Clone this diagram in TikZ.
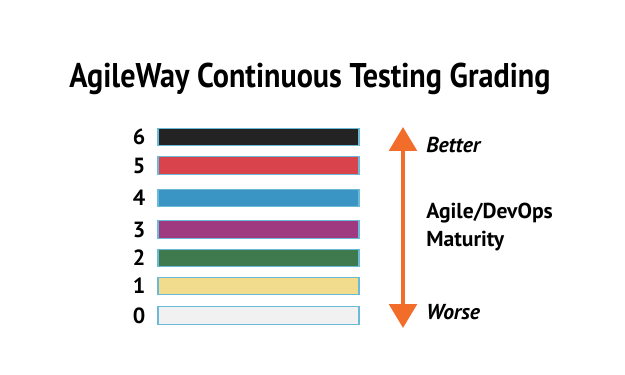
\documentclass[tikz,border=0pt]{standalone}
\usepackage{fontspec}
\setmainfont{PT Sans}
\newfontfamily\titlefont[FakeStretch=0.88]{PT Sans}
\usetikzlibrary{arrows.meta}
\definecolor{gradesix}{HTML}{232323}
\definecolor{gradefive}{HTML}{D8434C}
\definecolor{gradefour}{HTML}{3B95C4}
\definecolor{gradethree}{HTML}{A03A80}
\definecolor{gradetwo}{HTML}{3E7A4D}
\definecolor{gradeone}{HTML}{F0DC8C}
\definecolor{gradezero}{HTML}{F1F1F1}
\definecolor{barline}{HTML}{6BBBD8}
\definecolor{arroworange}{HTML}{F26C2A}
\tikzset{gradebar/.style={draw=barline, line width=0.6pt, minimum width=4.02cm, minimum height=0.35cm, inner sep=0pt},
         gradenum/.style={font=\bfseries\fontsize{12.5}{14}\selectfont, inner sep=0pt},
         sidetext/.style={font=\bfseries\fontsize{12.3}{15.5}\selectfont, anchor=west, align=left, inner sep=0pt}}

\begin{document}
\begin{tikzpicture}[x=0.02cm,y=-0.02cm]
   \useasboundingbox (0,0) rectangle (625,375);
   \node[font=\titlefont\bfseries\fontsize{19.5}{22}\selectfont, inner sep=0pt] (title) at (310,79) {AgileWay Continuous Testing Grading};
   % bars
   \node[gradebar, fill=gradesix]   (bar6) at (258.5,137) {};
   \node[gradebar, fill=gradefive]  (bar5) at (258.5,165.5) {};
   \node[gradebar, fill=gradefour]  (bar4) at (258.5,198) {};
   \node[gradebar, fill=gradethree] (bar3) at (258.5,229.5) {};
   \node[gradebar, fill=gradetwo]   (bar2) at (258.5,258) {};
   \node[gradebar, fill=gradeone]   (bar1) at (258.5,286) {};
   \node[gradebar, fill=gradezero]  (bar0) at (258.5,315.5) {};
   % grade numbers
   \node[gradenum] (num6) at (139,137) {6};
   \node[gradenum] (num5) at (139,165.5) {5};
   \node[gradenum] (num4) at (139,198) {4};
   \node[gradenum] (num3) at (139,229.5) {3};
   \node[gradenum] (num2) at (139,258) {2};
   \node[gradenum] (num1) at (139,286) {1};
   \node[gradenum] (num0) at (139,315.5) {0};
   % maturity arrow
   \coordinate (top) at (403,127);
   \coordinate (bottom) at (403,328);
   \draw[arroworange, line width=2.4pt, {Triangle[width=0.55cm,length=0.48cm]}-{Triangle[width=0.55cm,length=0.48cm]}] (top) -- (bottom);
   \node[sidetext, font=\bfseries\itshape\fontsize{12.3}{15.5}\selectfont] (better) at (426,145) {Better};
   \node[sidetext] (maturity) at (426,227) {Agile/DevOps\\Maturity};
   \node[sidetext, font=\bfseries\itshape\fontsize{12.3}{15.5}\selectfont] (worse) at (426,312) {Worse};
\end{tikzpicture}
\end{document}
